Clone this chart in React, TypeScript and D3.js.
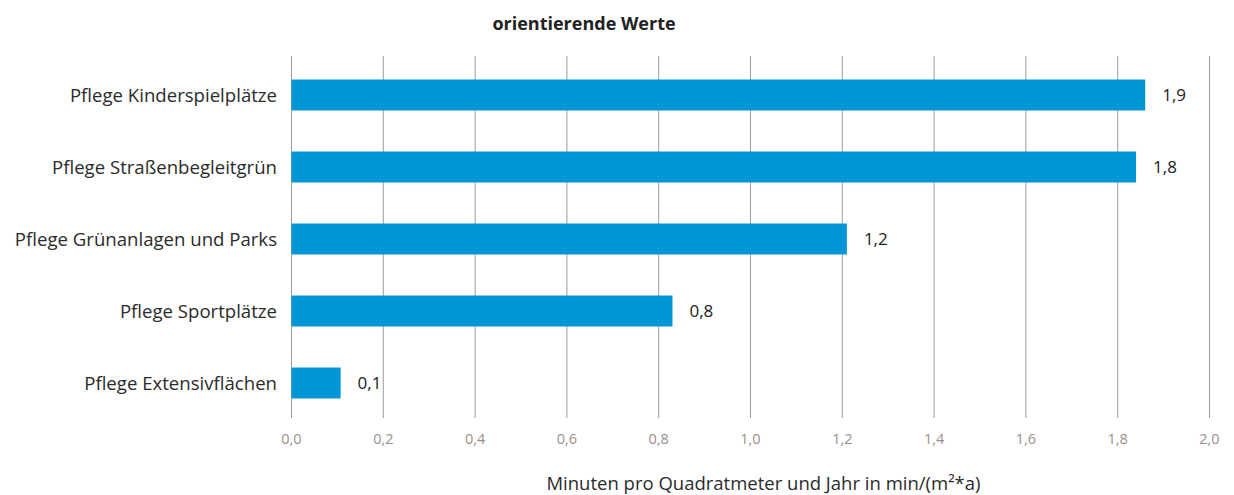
import React from "react";
import * as d3 from "d3";

const categories = [
  "Pflege Kinderspielplätze",
  "Pflege Straßenbegleitgrün",
  "Pflege Grünanlagen und Parks",
  "Pflege Sportplätze",
  "Pflege Extensivflächen",
];
const values = [1.86, 1.84, 1.21, 0.83, 0.107];
const xTicks = [0, 0.2, 0.4, 0.6, 0.8, 1.0, 1.2, 1.4, 1.6, 1.8, 2.0];
const title = "orientierende Werte";
const xTitle = "Minuten pro Quadratmeter und Jahr in min/(m²*a)";

const W = 1234;
const H = 495;
const FONT = "'Open Sans', 'Noto Sans', sans-serif";

export default function App() {
  const x = d3.scaleLinear().domain([0, 2]).range([291.5, 1209.5]);
  const y = d3
    .scaleBand<string>()
    .domain(categories)
    .range([59, 419])
    .paddingInner(0.57)
    .paddingOuter(0.285);
  const fmt = (v: number) => d3.format(".1f")(v).replace(".", ",");
  const gridTop = 56;
  const gridBottom = 418;

  return (
    <svg
      width={W}
      height={H}
      style={{ position: "absolute", left: 0, top: 0, background: "#fff" }}
      fontFamily={FONT}
    >
      <text x={584} y={30} textAnchor="middle" fontSize={18} fontWeight="bold" fill="#222">
        {title}
      </text>
      {xTicks.map((t) => (
        <line
          key={"g" + t}
          x1={x(t)}
          x2={x(t)}
          y1={gridTop}
          y2={gridBottom}
          stroke="#a39a98"
          strokeWidth={1}
        />
      ))}
      {categories.map((c, i) => (
        <rect
          key={c}
          x={x(0)}
          y={y(c)}
          width={x(values[i]) - x(0)}
          height={y.bandwidth()}
          fill="#0096d8"
        />
      ))}
      {categories.map((c) => (
        <text
          key={"l" + c}
          x={277}
          y={(y(c) as number) + y.bandwidth() / 2}
          dy="0.35em"
          textAnchor="end"
          fontSize={18.6}
          fill="#2b2b2b"
        >
          {c}
        </text>
      ))}
      {categories.map((c, i) => (
        <text
          key={"v" + c}
          x={x(values[i]) + 17}
          y={(y(c) as number) + y.bandwidth() / 2}
          dy="0.35em"
          fontSize={17}
          fill="#222"
        >
          {fmt(values[i])}
        </text>
      ))}
      {xTicks.map((t) => (
        <text
          key={"t" + t}
          x={x(t)}
          y={439}
          dy="0.35em"
          textAnchor="middle"
          fontSize={14.5}
          fill="#9a8f8c"
        >
          {fmt(t)}
        </text>
      ))}
      <text x={763.5} y={484} dy="0.35em" textAnchor="middle" fontSize={18.5} fill="#2b2b2b">
        {xTitle}
      </text>
    </svg>
  );
}
